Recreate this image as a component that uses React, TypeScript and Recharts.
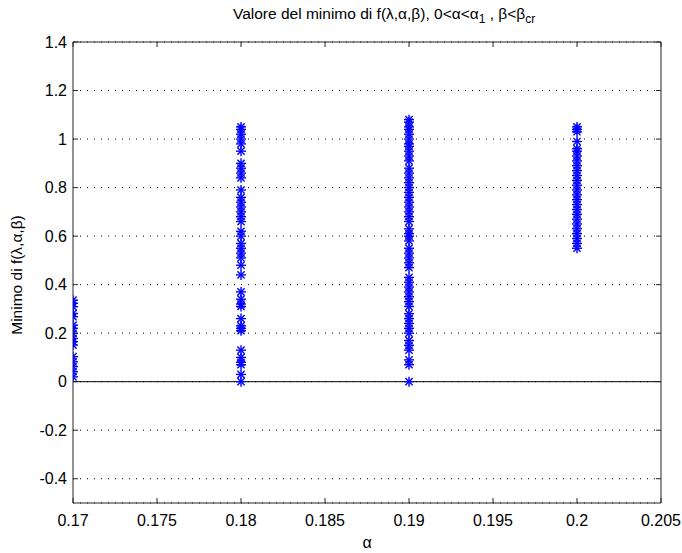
import React from 'react';
import {
  ScatterChart,
  Scatter,
  XAxis,
  YAxis,
  CartesianGrid,
  ReferenceLine,
  Customized,
} from 'recharts';

// alpha values (x) and the minima
const alphaValues = [0.17, 0.18, 0.19, 0.2];

const minAt017 = [
  0.336, 0.323, 0.309, 0.281, 0.268, 0.233, 0.22, 0.199, 0.178, 0.165, 0.151, 0.103, 0.082, 0.062,
  0.041, 0.02,
];

const minAt018 = [
  1.05, 1.04, 1.02, 1.0, 0.98, 0.95, 0.9, 0.88, 0.86, 0.84, 0.79, 0.76, 0.74, 0.72, 0.7, 0.68, 0.66,
  0.62, 0.6, 0.57, 0.55, 0.53, 0.51, 0.48, 0.44, 0.37, 0.34, 0.32, 0.31, 0.26, 0.23, 0.22, 0.21,
  0.13, 0.1, 0.08, 0.07, 0.03, 0.0,
];

const minAt019 = [
  1.08, 1.07, 1.05, 1.04, 1.02, 1.0, 0.98, 0.97, 0.95, 0.93, 0.91, 0.88, 0.86, 0.84, 0.82, 0.8,
  0.78, 0.76, 0.74, 0.72, 0.7, 0.68, 0.66, 0.63, 0.61, 0.6, 0.58, 0.55, 0.53, 0.51, 0.49, 0.47,
  0.43, 0.41, 0.39, 0.37, 0.35, 0.33, 0.31, 0.28, 0.26, 0.24, 0.22, 0.2, 0.17, 0.15, 0.13, 0.09,
  0.07, 0.0,
];

const minAt020 = [
  1.05, 1.04, 1.03, 0.99, 0.96, 0.95, 0.93, 0.91, 0.89, 0.87, 0.85, 0.83, 0.81, 0.79, 0.77, 0.75,
  0.73, 0.71, 0.69, 0.67, 0.65, 0.63, 0.61, 0.59, 0.57, 0.55,
];

const xTicks = [0.17, 0.175, 0.18, 0.185, 0.19, 0.195, 0.2, 0.205];
const yTicks = [-0.4, -0.2, 0, 0.2, 0.4, 0.6, 0.8, 1, 1.2, 1.4];

const columns = [minAt017, minAt018, minAt019, minAt020];
const points = columns.flatMap((col, i) => col.map((v) => ({ x: alphaValues[i], y: v })));

const W = 682;
const H = 553;
const LEFT = 73;
const RIGHT = 661;
const TOP = 42;
const BOTTOM = 503;
const FONT = '"Liberation Sans", Arial, Helvetica, sans-serif';
const AXIS = '#262626';
const BLUE = '#0000ff';

const fmt = (v: number) => String(Number(v.toFixed(3)));

const Asterisk = (props: any) => {
  const { cx, cy } = props;
  if (cx == null || cy == null) return null;
  const r = 5;
  const d = 3.6;
  return (
    <g stroke={BLUE} strokeWidth={1.4}>
      <line x1={cx - r} y1={cy} x2={cx + r} y2={cy} />
      <line x1={cx} y1={cy - r} x2={cx} y2={cy + r} />
      <line x1={cx - d} y1={cy - d} x2={cx + d} y2={cy + d} />
      <line x1={cx - d} y1={cy + d} x2={cx + d} y2={cy - d} />
    </g>
  );
};

const YTick = (props: any) => {
  const { y, payload } = props;
  return (
    <g>
      <line x1={LEFT} x2={LEFT + 5} y1={y} y2={y} stroke={AXIS} />
      <line x1={RIGHT - 5} x2={RIGHT} y1={y} y2={y} stroke={AXIS} />
      <text x={LEFT - 6} y={y} dy={5.5} textAnchor="end" fontSize={16} fontFamily={FONT} fill="#000">
        {fmt(payload.value)}
      </text>
    </g>
  );
};

const XTick = (props: any) => {
  const { x, payload } = props;
  return (
    <g>
      <line x1={x} x2={x} y1={BOTTOM} y2={BOTTOM - 5} stroke={AXIS} />
      <line x1={x} x2={x} y1={TOP} y2={TOP + 5} stroke={AXIS} />
      <text x={x} y={BOTTOM + 23} textAnchor="middle" fontSize={16} fontFamily={FONT} fill="#000">
        {fmt(payload.value)}
      </text>
    </g>
  );
};

const Labels = () => (
  <g fontFamily={FONT} fill="#000">
    <text x={233} y={19} fontSize={15.5}>
      Valore del minimo di f(λ,α,β), 0&lt;α&lt;α
      <tspan fontSize={12} dy={4}>1</tspan>
      <tspan dy={-4}> , β&lt;β</tspan>
      <tspan fontSize={12} dy={4}>cr</tspan>
    </text>
    <text x={367} y={548} textAnchor="middle" fontSize={16}>
      α
    </text>
    <text
      x={22}
      y={275}
      textAnchor="middle"
      fontSize={15.5}
      transform="rotate(-90 22 275)"
    >
      Minimo di f(λ,α,β)
    </text>
  </g>
);

export default function App() {
  return (
    <div style={{ position: 'absolute', left: 0, top: 0, width: W, height: H, background: '#fff' }}>
      <ScatterChart
        width={W}
        height={H}
        margin={{ top: TOP, right: W - RIGHT, bottom: 0, left: 0 }}
      >
        <CartesianGrid vertical={false} stroke="#000" strokeDasharray="1 6" />
        <XAxis
          type="number"
          dataKey="x"
          domain={[0.17, 0.205]}
          ticks={xTicks}
          allowDataOverflow
          height={H - BOTTOM}
          tickLine={false}
          axisLine={{ stroke: AXIS }}
          tick={<XTick />}
          interval={0}
        />
        <YAxis
          type="number"
          dataKey="y"
          domain={[-0.5, 1.4]}
          ticks={yTicks}
          allowDataOverflow
          width={LEFT}
          tickLine={false}
          axisLine={{ stroke: AXIS }}
          tick={<YTick />}
          interval={0}
        />
        <ReferenceLine y={1.4} stroke={AXIS} />
        <ReferenceLine x={0.205} stroke={AXIS} />
        <ReferenceLine y={0} stroke="#000" />
        <Scatter data={points} shape={<Asterisk />} isAnimationActive={false} />
        <Customized component={<Labels />} />
      </ScatterChart>
    </div>
  );
}
